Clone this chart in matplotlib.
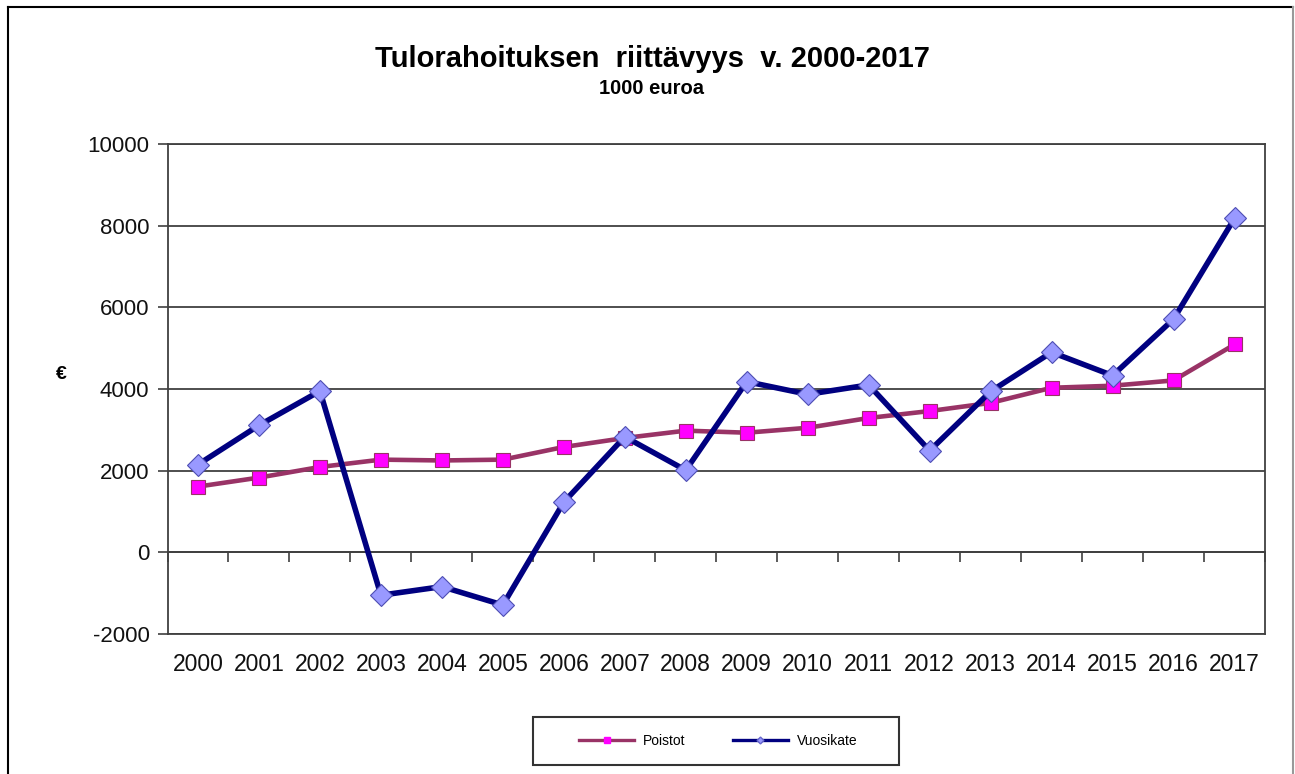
import matplotlib.pyplot as plt
from matplotlib.lines import Line2D
from matplotlib.patches import Rectangle
import numpy as np

plt.rcParams['font.family'] = ['Liberation Sans', 'DejaVu Sans']

years = [str(y) for y in range(2000, 2018)]
poistot = [1610, 1830, 2090, 2270, 2250, 2270, 2580, 2800, 2980, 2930,
           3050, 3290, 3460, 3660, 4030, 4080, 4210, 5090]
vuosikate = [2150, 3110, 3950, -1050, -840, -1290, 1230, 2830, 2010, 4180,
             3870, 4100, 2490, 3940, 4900, 4330, 5710, 8180]
y_ticks = [-2000, 0, 2000, 4000, 6000, 8000, 10000]

W, H = 1295, 774
fig = plt.figure(figsize=(W / 100, H / 100), dpi=100)
ax = fig.add_axes([167.5 / W, (H - 634) / H, (1265 - 167.5) / W, (634 - 144) / H])

x = np.arange(len(years))
ax.plot(x, poistot, color='#993366', lw=3.3, marker='s', ms=10,
        mfc='#FF00FF', mec='#993366', mew=0.8, zorder=3)
ax.plot(x, vuosikate, color='#000080', lw=4.0, marker='D', ms=11,
        mfc='#9999FF', mec='#4d4db3', mew=0.8, zorder=4)

ax.set_xlim(-0.5, len(years) - 0.5)
ax.set_ylim(y_ticks[0], y_ticks[-1])
ax.set_yticks(y_ticks)
ax.set_yticklabels([str(v) for v in y_ticks], fontsize=16, color='#111111')
ax.set_xticks(x)
ax.set_xticklabels(years, fontsize=16.5, color='#111111')
ax.tick_params(axis='x', length=0, pad=14)
ax.tick_params(axis='y', length=7, width=1.2, color='#404040', pad=6)
ax.yaxis.grid(True, color='#404040', lw=1.3)
ax.set_axisbelow(True)
for s in ax.spines.values():
    s.set_color('#404040')
    s.set_linewidth(1.3)

# category axis crossing at zero, tick marks between categories
zero_pos = (0 - y_ticks[0]) / (y_ticks[-1] - y_ticks[0])
sec = ax.secondary_xaxis(zero_pos)
sec.set_xticks(np.arange(len(years) + 1) - 0.5)
sec.set_xticklabels([])
sec.tick_params(length=7, width=1.2, color='#404040', direction='out')
sec.spines['bottom'].set_color('#404040')
sec.spines['bottom'].set_linewidth(1.3)

# titles
fig.text(652 / W, 1 - 67 / H, 'Tulorahoituksen  riittävyys  v. 2000-2017',
         ha='center', va='baseline', fontsize=21, fontweight='bold')
fig.text(652 / W, 1 - 94 / H, '1000 euroa', ha='center', va='baseline',
         fontsize=14.5, fontweight='bold')
fig.text(61 / W, 1 - 374 / H, '€', ha='center', va='center',
         fontsize=14, fontweight='bold')

# legend
fig.patches.append(Rectangle((533 / W, 1 - 765 / H), (899 - 533) / W, 48 / H,
                             transform=fig.transFigure, fill=False,
                             edgecolor='#333333', lw=1.5))
handles = [Line2D([], [], color='#993366', lw=2.4, marker='s', ms=4,
                  mfc='#FF00FF', mec='#FF00FF'),
           Line2D([], [], color='#000080', lw=2.4, marker='D', ms=3.5,
                  mfc='#9999FF', mec='#6666cc')]
fig.legend(handles, ['Poistot', 'Vuosikate'], loc='center',
           bbox_to_anchor=(718 / W, 1 - 741 / H), ncol=2, frameon=False,
           fontsize=10, handlelength=4.0, columnspacing=3.4, handletextpad=0.6)

# outer chart border
fig.add_artist(Line2D([8 / W, 8 / W], [0, 1 - 7 / H], transform=fig.transFigure,
                      color='black', lw=1.5))
fig.add_artist(Line2D([8 / W, 1293 / W], [1 - 7 / H, 1 - 7 / H],
                      transform=fig.transFigure, color='black', lw=1.5))
fig.add_artist(Line2D([1293 / W, 1293 / W], [0, 1 - 7 / H],
                      transform=fig.transFigure, color='#999999', lw=1.5))

fig.savefig('out.png', dpi=100)
